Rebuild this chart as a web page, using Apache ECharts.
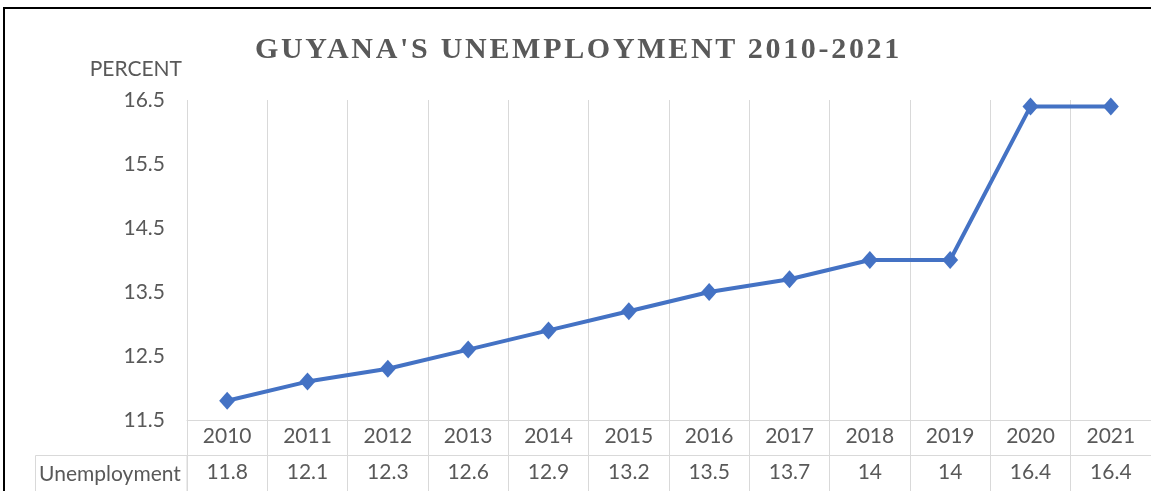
<!DOCTYPE html>
<html>
<head>
<meta charset="utf-8">
<script src="https://cdn.jsdelivr.net/npm/echarts@6/dist/echarts.min.js"></script>
<style>
  html, body { margin: 0; padding: 0; background: #fff; }
  #wrap { position: relative; width: 1151px; height: 491px; overflow: hidden; }
  #chart { position: absolute; left: 0; top: 0; width: 1151px; height: 491px; }
  #title {
    position: absolute; left: 0; top: 28px; width: 1151px; text-align: center;
    font-family: "Liberation Serif", "DejaVu Serif", serif; font-weight: bold;
    font-size: 30px; letter-spacing: 2.7px; color: #595959; line-height: 40px;
    padding-left: 6px; box-sizing: border-box;
  }
</style>
</head>
<body>
<div id="wrap">
  <div id="chart"></div>
  <div id="title">GUYANA'S UNEMPLOYMENT 2010-2021</div>
</div>
<script>
// Guyana unemployment rate, percent
const years = ['2010', '2011', '2012', '2013', '2014', '2015', '2016', '2017', '2018', '2019', '2020', '2021'];
const unemployment = [11.8, 12.1, 12.3, 12.6, 12.9, 13.2, 13.5, 13.7, 14, 14, 16.4, 16.4];
const seriesName = 'Unemployment';
const axisName = 'PERCENT';
const yTicks = [11.5, 12.5, 13.5, 14.5, 15.5, 16.5];

const FONT = 'Lato, "Open Sans", sans-serif';
const FSIZE = 21;
const TEXT = '#595959';
const GRID = '#d9d9d9';
const BLUE = '#4472C4';

const chart = echarts.init(document.getElementById('chart'), null, { renderer: 'canvas' });

chart.setOption({
  animation: false,
  backgroundColor: '#fff',
  grid: { left: 187, top: 100, right: -4, bottom: 71, containLabel: false },
  xAxis: [
    {
      type: 'category',
      data: years,
      boundaryGap: true,
      position: 'bottom',
      axisLine: { show: true, lineStyle: { color: GRID, width: 1 } },
      axisTick: { show: true, inside: false, length: 71, lineStyle: { color: GRID, width: 1 } },
      axisLabel: { color: TEXT, fontFamily: FONT, fontSize: FSIZE, margin: 6 },
      splitLine: { show: true, lineStyle: { color: GRID, width: 1 } }
    },
    {
      // data-table row of values under the years
      type: 'category',
      data: unemployment.map(v => String(v)),
      boundaryGap: true,
      position: 'bottom',
      offset: 35,
      axisLine: { show: true, lineStyle: { color: GRID, width: 1 } },
      axisTick: { show: false },
      axisLabel: { color: TEXT, fontFamily: FONT, fontSize: FSIZE, margin: 7 },
      splitLine: { show: false }
    }
  ],
  yAxis: {
    type: 'value',
    min: 11.5,
    max: 16.5,
    interval: 0.5,
    name: axisName,
    nameLocation: 'end',
    nameGap: 20,
    nameTextStyle: { color: TEXT, fontFamily: FONT, fontSize: FSIZE, align: 'right', padding: [0, 5, 0, 0] },
    axisLine: { show: false },
    axisTick: { show: false },
    splitLine: { show: false },
    axisLabel: {
      color: TEXT, fontFamily: FONT, fontSize: FSIZE, margin: 22,
      formatter: v => (yTicks.some(t => Math.abs(t - v) < 1e-6) ? v.toFixed(1) : '')
    }
  },
  graphic: [
    {
      // outer chart frame
      type: 'rect', silent: true, z: 100,
      shape: { x: 4, y: 8, width: 1300, height: 700 },
      style: { fill: null, stroke: '#000', lineWidth: 2 }
    },
    {
      // series key cell of the data table
      type: 'rect', silent: true,
      shape: { x: 35.5, y: 455.5, width: 151.5, height: 60 },
      style: { fill: null, stroke: GRID, lineWidth: 1 }
    },
    {
      type: 'text', silent: true,
      x: 110, y: 474,
      style: { text: seriesName, fill: TEXT, font: FSIZE + 'px ' + FONT, textAlign: 'center', textVerticalAlign: 'middle' }
    }
  ],
  series: [
    {
      name: seriesName,
      type: 'line',
      data: unemployment,
      xAxisIndex: 0,
      symbol: 'diamond',
      symbolSize: [16, 18],
      lineStyle: { color: BLUE, width: 4 },
      itemStyle: { color: BLUE },
      label: { show: false }
    }
  ]
});
</script>
</body>
</html>
